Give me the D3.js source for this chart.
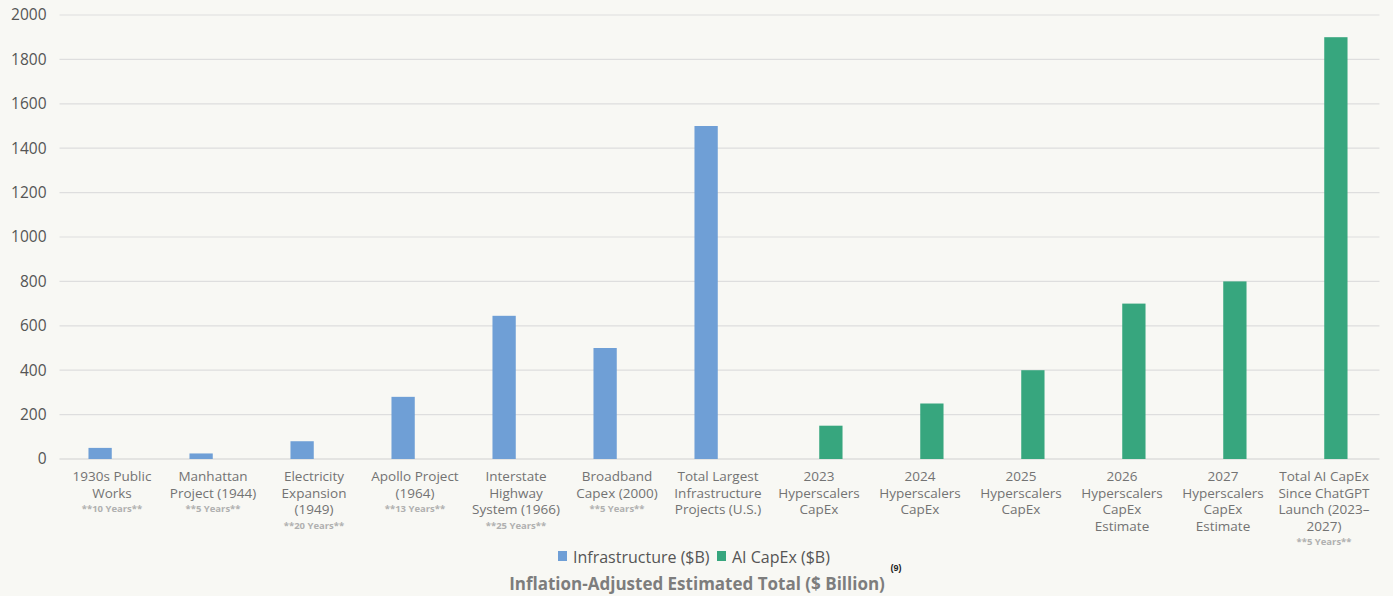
<!DOCTYPE html>
<html><head><meta charset="utf-8">
<script src="https://cdn.jsdelivr.net/npm/d3@7"></script>
<style>body{margin:0;background:#f8f8f4;}svg{display:block;}</style>
</head><body><div id="c"></div>
<script>
const categories = [
  ["1930s Public","Works"],
  ["Manhattan","Project (1944)"],
  ["Electricity","Expansion","(1949)"],
  ["Apollo Project","(1964)"],
  ["Interstate","Highway","System (1966)"],
  ["Broadband","Capex (2000)"],
  ["Total Largest","Infrastructure","Projects (U.S.)"],
  ["2023","Hyperscalers","CapEx"],
  ["2024","Hyperscalers","CapEx"],
  ["2025","Hyperscalers","CapEx"],
  ["2026","Hyperscalers","CapEx","Estimate"],
  ["2027","Hyperscalers","CapEx","Estimate"],
  ["Total AI CapEx","Since ChatGPT","Launch (2023–","2027)"]
];
const durations = ["**10 Years**","**5 Years**","**20 Years**","**13 Years**","**25 Years**","**5 Years**","","","","","","","**5 Years**"];
const infrastructure = [50, 25, 80, 280, 645, 500, 1500, null, null, null, null, null, null];
const aiCapex = [null, null, null, null, null, null, null, 150, 250, 400, 700, 800, 1900];
const series = ["Infrastructure ($B)", "AI CapEx ($B)"];
const colors = ["#6f9fd6", "#37a67e"];
const yTicks = [0,200,400,600,800,1000,1200,1400,1600,1800,2000];

const W = 1393, H = 596;
const svg = d3.select("#c").append("svg").attr("width", W).attr("height", H);
svg.append("rect").attr("width", W).attr("height", H).attr("fill", "#f8f8f4");

const mLeft = 61.5, mRight = 1374.5, mTop = 15, mBottom = 459;
const x = d3.scaleBand().domain(d3.range(categories.length)).range([mLeft, mRight]);
const y = d3.scaleLinear().domain([0, 2000]).range([mBottom, mTop]);
const sub = d3.scaleBand().domain([0,1]).range([x.bandwidth()/2 - 24, x.bandwidth()/2 + 24]).padding(0.02);

// gridlines
svg.append("g").selectAll("line").data(yTicks).join("line")
  .attr("x1", mLeft - 2).attr("x2", mRight + 5)
  .attr("y1", d => y(d)).attr("y2", d => y(d))
  .attr("stroke", d => d === 0 ? "#d0d0d0" : "#dedede").attr("stroke-width", 1.2);

// y labels
const yAxis = d3.axisLeft(y).tickValues(yTicks).tickFormat(d3.format("d")).tickSize(0).tickPadding(0);
const ga = svg.append("g").attr("transform", `translate(${mLeft - 15},0)`).call(yAxis);
ga.select(".domain").remove();
ga.selectAll("text").attr("font-family", "Open Sans, sans-serif").attr("font-size", 15.5).attr("fill", "#555");

// bars
const data = [infrastructure, aiCapex];
data.forEach((vals, si) => {
  svg.append("g").selectAll("rect").data(vals.map((v,i)=>({v,i})).filter(d => d.v != null)).join("rect")
    .attr("x", d => x(d.i) + sub(si))
    .attr("width", sub.bandwidth())
    .attr("y", d => y(d.v))
    .attr("height", d => y(0) - y(d.v))
    .attr("fill", colors[si]);
});

// category labels
const lg = svg.append("g");
categories.forEach((lines, i) => {
  const cx = x(i) + x.bandwidth()/2;
  const t = lg.append("text").attr("x", cx).attr("y", 481).attr("text-anchor", "middle")
    .attr("font-family", "Open Sans, sans-serif").attr("font-size", 13.5).attr("fill", "#737373");
  lines.forEach((l, k) => t.append("tspan").attr("x", cx).attr("dy", k === 0 ? 0 : 16.5).text(l));
  if (durations[i]) {
    lg.append("text").attr("x", cx).attr("y", 481 + (lines.length) * 16.5 - 2)
      .attr("text-anchor", "middle").attr("font-family", "Open Sans, sans-serif")
      .attr("font-size", 9.5).attr("font-weight", "bold").attr("fill", "#b0b0b0").text(durations[i]);
  }
});

// legend
const leg = svg.append("g");
const legX = [558, 717];
series.forEach((s, i) => {
  leg.append("rect").attr("x", legX[i]).attr("y", 551).attr("width", 9).attr("height", 10).attr("fill", colors[i]);
  leg.append("text").attr("x", legX[i] + 15).attr("y", 563).attr("font-family", "Open Sans, sans-serif")
    .attr("font-size", 16).attr("fill", "#555").text(s);
});
svg.append("text").attr("x", 896).attr("y", 571).attr("text-anchor", "middle")
  .attr("font-family", "Liberation Sans, sans-serif").attr("font-size", 9).attr("font-weight", "bold").attr("fill", "#222").text("(9)");
svg.append("text").attr("x", 697).attr("y", 590).attr("text-anchor", "middle")
  .attr("font-family", "Open Sans, sans-serif").attr("font-size", 17).attr("font-weight", "bold").attr("fill", "#7d7d7d")
  .text("Inflation-Adjusted Estimated Total ($ Billion)");
</script></body></html>
